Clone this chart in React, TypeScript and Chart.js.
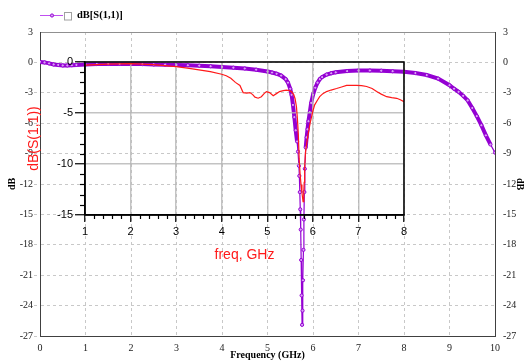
import React, { useEffect, useRef } from 'react';
import { Chart, registerables } from 'chart.js';
Chart.register(...registerables);

// Main plot: dB[S(1,1)] vs Frequency (GHz)
const freqMain = [0, 0.1, 0.2, 0.3, 0.4, 0.5, 0.6, 0.7, 0.8, 1.0, 1.25, 1.5, 1.75, 2.0, 2.25, 2.5, 2.75, 3.0, 3.25, 3.5, 3.75, 4.0, 4.25, 4.5, 4.75, 5.0, 5.1, 5.2, 5.3, 5.4, 5.45, 5.5, 5.53, 5.56, 5.59, 5.62, 5.65, 5.67, 5.69, 5.7, 5.71, 5.72, 5.73, 5.74, 5.75, 5.76, 5.77, 5.78, 5.79, 5.8, 5.81, 5.82, 5.84, 5.86, 5.88, 5.9, 5.93, 5.96, 6.0, 6.05, 6.1, 6.15, 6.2, 6.3, 6.4, 6.5, 6.75, 7.0, 7.25, 7.5, 7.75, 8.0, 8.25, 8.5, 8.75, 9.0, 9.1, 9.2, 9.3, 9.4, 9.5, 9.6, 9.7, 9.8, 9.9, 10.0];
const dbMain = [0.05, 0.0, -0.1, -0.2, -0.25, -0.3, -0.3, -0.28, -0.25, -0.2, -0.17, -0.15, -0.15, -0.15, -0.17, -0.2, -0.22, -0.25, -0.28, -0.32, -0.38, -0.45, -0.52, -0.6, -0.72, -0.9, -1.0, -1.12, -1.3, -1.65, -2.0, -2.6, -3.2, -4.2, -5.4, -6.7, -7.8, -8.8, -10.2, -11.2, -12.8, -14.5, -16.5, -19.5, -23, -25.9, -24.5, -21.5, -18.5, -15.5, -12.8, -10.5, -8.4, -7.4, -6.6, -5.8, -4.9, -4.0, -3.2, -2.5, -2.0, -1.65, -1.45, -1.2, -1.07, -0.98, -0.86, -0.8, -0.8, -0.82, -0.87, -0.93, -1.05, -1.25, -1.6, -2.25, -2.6, -2.9, -3.3, -3.75, -4.5, -5.3, -6.2, -7.2, -8.1, -8.9];

// Inset: dB(S(1,1)) vs freq, GHz
const freqInset = [1.0, 1.5, 2.0, 2.5, 3.0, 3.25, 3.5, 3.75, 4.0, 4.1, 4.2, 4.3, 4.4, 4.47, 4.55, 4.62, 4.68, 4.73, 4.8, 4.87, 4.93, 4.98, 5.05, 5.13, 5.2, 5.27, 5.35, 5.42, 5.48, 5.53, 5.58, 5.61, 5.64, 5.66, 5.68, 5.7, 5.72, 5.74, 5.76, 5.785, 5.8, 5.81, 5.82, 5.84, 5.87, 5.9, 5.94, 5.97, 6.0, 6.04, 6.1, 6.15, 6.22, 6.3, 6.4, 6.52, 6.63, 6.74, 6.85, 6.96, 7.07, 7.18, 7.3, 7.4, 7.5, 7.62, 7.73, 7.84, 7.92, 8.0];
const dbInset = [-0.3, -0.2, -0.15, -0.25, -0.45, -0.6, -0.78, -0.95, -1.2, -1.35, -1.6, -2.0, -2.3, -3.0, -3.05, -3.0, -3.2, -3.45, -3.55, -3.4, -3.1, -2.9, -3.0, -3.3, -3.1, -2.9, -2.8, -2.75, -2.8, -2.9, -3.2, -3.6, -4.4, -5.5, -7.0, -9.5, -11.0, -12.0, -12.8, -13.7, -12.8, -11.8, -10.3, -8.8, -7.8, -7.0, -6.0, -5.4, -4.8, -4.2, -3.75, -3.4, -3.1, -2.9, -2.75, -2.6, -2.45, -2.3, -2.28, -2.3, -2.32, -2.4, -2.6, -2.9, -3.15, -3.4, -3.5, -3.56, -3.7, -3.9];

const mainX = { min: 0, max: 10, step: 1 };
const mainY = { min: -27, max: 3, step: 3 };
const insetX = { min: 1, max: 8, step: 1, minor: 0.2 };
const insetY = { min: -15, max: 0, step: 5, minor: 1 };

const SERIF = '"Liberation Serif", "Times New Roman", serif';
const SANS = '"Liberation Sans", Arial, sans-serif';
const PURPLE = '#9400d3';
const RED = '#ff1a1a';

const legendPlugin = {
  id: 'topLegend',
  afterDraw(chart: any) {
    const { ctx, chartArea } = chart;
    const x0 = chartArea.left;
    const y = 15.5;
    ctx.save();
    ctx.setLineDash([]);
    ctx.strokeStyle = '#c050f0';
    ctx.lineWidth = 1;
    ctx.beginPath();
    ctx.moveTo(x0, y);
    ctx.lineTo(x0 + 23, y);
    ctx.stroke();
    ctx.beginPath();
    ctx.arc(x0 + 12, y, 1.6, 0, Math.PI * 2);
    ctx.fillStyle = '#d9a0f5';
    ctx.fill();
    ctx.strokeStyle = PURPLE;
    ctx.stroke();
    ctx.fillStyle = '#fff';
    ctx.fillRect(x0 + 24.5, 12.5, 7, 7.5);
    ctx.strokeStyle = '#a0a0a0';
    ctx.strokeRect(x0 + 24.5, 12.5, 7, 7.5);
    ctx.fillStyle = '#000';
    ctx.font = 'bold 10.5px ' + SERIF;
    ctx.textBaseline = 'middle';
    ctx.textAlign = 'left';
    ctx.fillText('dB[S(1,1)]', x0 + 37, y);
    ctx.restore();
  },
};

const insetFramePlugin = {
  id: 'insetFrame',
  afterDraw(chart: any) {
    const { ctx, chartArea, scales } = chart;
    const sx = scales.x;
    const sy = scales.y;
    ctx.save();
    ctx.setLineDash([]);
    ctx.strokeStyle = '#000';
    ctx.lineWidth = 1.2;
    for (let v = insetY.min; v <= insetY.max; v += insetY.minor) {
      if (v % insetY.step === 0) continue;
      const py = Math.round(sy.getPixelForValue(v)) + 0.5;
      ctx.beginPath();
      ctx.moveTo(chartArea.left - 5, py);
      ctx.lineTo(chartArea.left, py);
      ctx.stroke();
    }
    const n = Math.round((insetX.max - insetX.min) / insetX.minor);
    for (let i = 0; i <= n; i++) {
      if (i % 5 === 0) continue;
      const v = insetX.min + i * insetX.minor;
      const px = Math.round(sx.getPixelForValue(v)) + 0.5;
      ctx.beginPath();
      ctx.moveTo(px, chartArea.bottom);
      ctx.lineTo(px, chartArea.bottom + 4);
      ctx.stroke();
    }
    ctx.lineWidth = 1.5;
    ctx.strokeRect(chartArea.left, chartArea.top, chartArea.right - chartArea.left, chartArea.bottom - chartArea.top);
    ctx.restore();
  },
};

export default function App() {
  const mainRef = useRef<HTMLCanvasElement>(null);
  const insetRef = useRef<HTMLCanvasElement>(null);

  useEffect(() => {
    document.body.style.margin = '0';

    const mainChart = new Chart(mainRef.current as HTMLCanvasElement, {
      type: 'line',
      data: {
        datasets: [
          {
            label: 'dB[S(1,1)]',
            data: freqMain.map((f, i) => ({ x: f, y: dbMain[i] })),
            borderColor: PURPLE,
            borderWidth: 4,
            pointRadius: 1.6,
            pointBorderWidth: 1,
            pointBackgroundColor: '#d9a0f5',
            pointBorderColor: PURPLE,
            tension: 0,
            segment: {
              borderWidth: (c: any) => (c.p0.parsed.y < -7.5 && c.p1.parsed.y < -7.5 ? 1.2 : 4),
            },
          },
        ],
      },
      options: {
        animation: false,
        responsive: false,
        events: [],
        layout: { padding: { top: 32, right: 0, left: 0, bottom: 0 } },
        plugins: { legend: { display: false }, tooltip: { enabled: false } },
        scales: {
          x: {
            type: 'linear',
            min: mainX.min,
            max: mainX.max,
            afterFit: (s: any) => { s.height = 26; },
            ticks: { stepSize: mainX.step, color: '#222', font: { family: SERIF, size: 10 }, padding: 6, maxRotation: 0 },
            grid: { color: '#c8c8c8', lineWidth: 1, drawTicks: false },
            border: { color: '#404040', width: 1, dash: [3, 3] },
            title: { display: true, text: 'Frequency (GHz)', color: '#000', font: { family: SERIF, size: 10, weight: 'bold' }, padding: { top: 0, bottom: 1 } },
          },
          y: {
            type: 'linear',
            position: 'left',
            min: mainY.min,
            max: mainY.max,
            afterFit: (s: any) => { s.width = 40; },
            ticks: { stepSize: mainY.step, color: '#222', font: { family: SERIF, size: 10 }, padding: 1 },
            grid: {
              color: (c: any) => (c.tick && c.tick.value === mainY.max ? '#909090' : '#c8c8c8'),
              tickColor: (c: any) => (c.tick && c.tick.value === mainY.max ? 'rgba(0,0,0,0)' : '#c8c8c8'),
              tickLength: 6,
              tickBorderDash: [3, 3],
            },
            border: { color: '#404040', width: 1, dash: (c: any) => (c.tick && c.tick.value === mainY.max ? [] : [3, 3]) },
            title: { display: true, text: 'dB', color: '#000', font: { family: SERIF, size: 10, weight: 'bold' }, padding: { top: 6, bottom: 0 } },
          },
          y2: {
            type: 'linear',
            position: 'right',
            min: mainY.min,
            max: mainY.max,
            afterFit: (s: any) => { s.width = 31; },
            ticks: { stepSize: mainY.step, color: '#222', font: { family: SERIF, size: 10 }, padding: 8 },
            grid: { drawOnChartArea: false, drawTicks: false },
            border: { color: '#404040', width: 1 },
            title: { display: true, text: 'dB', color: '#000', font: { family: SERIF, size: 10, weight: 'bold' }, padding: { top: 0, bottom: 0 } },
          },
        },
      },
      plugins: [legendPlugin],
    } as any);

    const insetChart = new Chart(insetRef.current as HTMLCanvasElement, {
      type: 'line',
      data: {
        datasets: [
          {
            label: 'dB(S(1,1))',
            data: freqInset.map((f, i) => ({ x: f, y: dbInset[i] })),
            borderColor: RED,
            borderWidth: 1.2,
            pointRadius: 0,
            tension: 0,
          },
        ],
      },
      options: {
        animation: false,
        responsive: false,
        events: [],
        layout: { padding: { top: 62, right: 122, left: 0, bottom: 0 } },
        plugins: { legend: { display: false }, tooltip: { enabled: false } },
        scales: {
          x: {
            type: 'linear',
            min: insetX.min,
            max: insetX.max,
            afterFit: (s: any) => { s.height = 147; },
            ticks: { stepSize: insetX.step, color: '#000', font: { family: SANS, size: 11 }, padding: 3, maxRotation: 0 },
            grid: { color: 'rgba(180,180,180,0.8)', lineWidth: 1.5, tickColor: '#000', tickLength: 7, tickWidth: 1.2 },
            border: { color: '#000', width: 1.5 },
            title: { display: true, text: 'freq, GHz', color: RED, font: { family: SANS, size: 14 }, padding: { top: 0, bottom: 98 } },
          },
          y: {
            type: 'linear',
            min: insetY.min,
            max: insetY.max,
            afterFit: (s: any) => { s.width = 85; },
            ticks: { stepSize: insetY.step, color: '#000', font: { family: SANS, size: 11 }, padding: 2 },
            grid: { color: 'rgba(180,180,180,0.8)', lineWidth: 1.5, tickColor: '#000', tickLength: 10, tickWidth: 1.2 },
            border: { color: '#000', width: 1.5 },
            title: { display: true, text: 'dB(S(1,1))', color: RED, font: { family: SANS, size: 14 }, padding: { top: 26, bottom: 0 } },
          },
        },
      },
      plugins: [insetFramePlugin],
    } as any);

    return () => {
      insetChart.destroy();
      mainChart.destroy();
    };
  }, []);

  return (
    <div style={{ position: 'relative', width: 526, height: 362, background: '#fff' }}>
      <canvas ref={mainRef} width={526} height={362} style={{ position: 'absolute', left: 0, top: 0 }} />
      <canvas ref={insetRef} width={526} height={362} style={{ position: 'absolute', left: 0, top: 0 }} />
    </div>
  );
}
